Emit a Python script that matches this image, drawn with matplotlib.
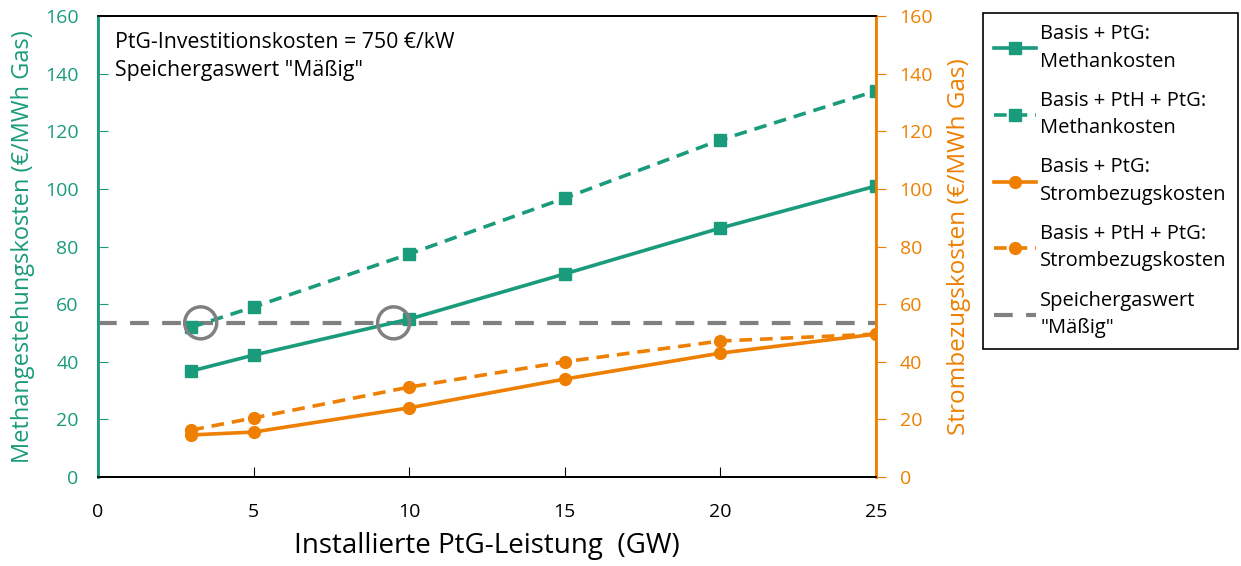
import matplotlib
matplotlib.use("Agg")
import matplotlib.pyplot as plt
from matplotlib.patches import Ellipse

plt.rcParams['font.family'] = ['Open Sans', 'DejaVu Sans']

# Installed PtG capacity (GW)
leistung = [3, 5, 10, 15, 20, 25]

# Methane production costs (€/MWh gas), left axis
methan_basis_ptg = [36.8, 42.3, 54.8, 70.5, 86.4, 101.0]
methan_basis_pth_ptg = [52.0, 59.0, 77.4, 96.8, 117.0, 134.0]

# Electricity purchase costs (€/MWh gas), right axis
strom_basis_ptg = [14.6, 15.6, 24.0, 34.0, 43.0, 49.6]
strom_basis_pth_ptg = [16.3, 20.5, 31.2, 40.0, 47.2, 49.6]

# Storage gas value "moderate"
speichergaswert = 53.5
speicher_x = [0, 25]

# Break-even crossings highlighted with open circles
kreuzungen_x = [3.3, 9.5]

y_ticks = [0, 20, 40, 60, 80, 100, 120, 140, 160]
x_ticks = [0, 5, 10, 15, 20, 25]

GREEN = '#1a9b7b'
ORANGE = '#ee7f00'
GRAY = '#808080'

fig = plt.figure(figsize=(12.41, 5.66), dpi=100)
ax = fig.add_axes([98 / 1241, 1 - 477 / 566, (876 - 98) / 1241, (477 - 16) / 566])
ax2 = ax.twinx()

ax.set_xlim(0, 25)
ax.set_ylim(0, 160)
ax2.set_ylim(0, 160)

l_sp, = ax.plot(speicher_x, [speichergaswert] * 2, color=GRAY, lw=3,
                dashes=(4.5, 3.2), label='Speichergaswert\n"Mäßig"', zorder=2)
l1, = ax.plot(leistung, methan_basis_ptg, color=GREEN, lw=2.6, marker='s', ms=8.5,
              label='Basis + PtG:\nMethankosten', zorder=3)
l2, = ax.plot(leistung, methan_basis_pth_ptg, color=GREEN, lw=2.6, marker='s', ms=8.5,
              dashes=(3.5, 2.2), label='Basis + PtH + PtG:\nMethankosten', zorder=3)
l3, = ax2.plot(leistung, strom_basis_ptg, color=ORANGE, lw=2.6, marker='o', ms=8.5,
               label='Basis + PtG:\nStrombezugskosten', zorder=3)
l4, = ax2.plot(leistung, strom_basis_pth_ptg, color=ORANGE, lw=2.6, marker='o', ms=8.5,
               dashes=(3.5, 2.2), label='Basis + PtH + PtG:\nStrombezugskosten', zorder=3)

# open circles marking where methane costs meet the storage gas value
for xc in kreuzungen_x:
    r_x = 16 / ((876 - 98) / 25)
    r_y = 16 / ((477 - 16) / 160)
    ax.add_patch(Ellipse((xc, speichergaswert), 2 * r_x, 2 * r_y, fill=False,
                         edgecolor=GRAY, lw=2.5, zorder=4))

ax.set_xticks(x_ticks)
ax.set_yticks(y_ticks)
ax2.set_yticks(y_ticks)

ax.tick_params(axis='x', direction='in', length=7, labelsize=14, pad=19, colors='black')
ax.tick_params(axis='y', direction='in', length=7, labelsize=14, pad=14,
               colors=GREEN, labelcolor=GREEN)
ax2.tick_params(axis='y', direction='out', length=7, labelsize=14, pad=10,
                colors=ORANGE, labelcolor=ORANGE)

for a in (ax, ax2):
    a.spines['left'].set_color(GREEN)
    a.spines['right'].set_color(ORANGE)
    a.spines['top'].set_color('black')
    a.spines['bottom'].set_color('black')
    for s in a.spines.values():
        s.set_linewidth(1.3)
ax2.spines['right'].set_linewidth(2)
ax2.spines['left'].set_linewidth(2)

ax.set_xlabel('Installierte PtG-Leistung  (GW)', fontsize=20, labelpad=8)
ax.set_ylabel('Methangestehungskosten (€/MWh Gas)', fontsize=17, color=GREEN, labelpad=7)
ax2.set_ylabel('Strombezugskosten (€/MWh Gas)', fontsize=17.5, color=ORANGE, labelpad=10)

ax.text(0.022, 0.965, 'PtG-Investitionskosten = 750 €/kW\nSpeichergaswert "Mäßig"',
        transform=ax.transAxes, fontsize=15.3, va='top', ha='left', linespacing=1.45)

leg = fig.legend(handles=[l1, l2, l3, l4, l_sp], loc='upper left',
                 bbox_to_anchor=(983 / 1241, 1 - 13 / 566), fontsize=14.5,
                 frameon=True, fancybox=False, edgecolor='black', framealpha=1,
                 handlelength=2.1, handletextpad=0.2, labelspacing=0.95,
                 borderpad=0.55, borderaxespad=0)
for t in leg.get_texts():
    t.set_linespacing(1.5)
leg.get_frame().set_linewidth(1.2)

fig.savefig('out.png', dpi=100)
